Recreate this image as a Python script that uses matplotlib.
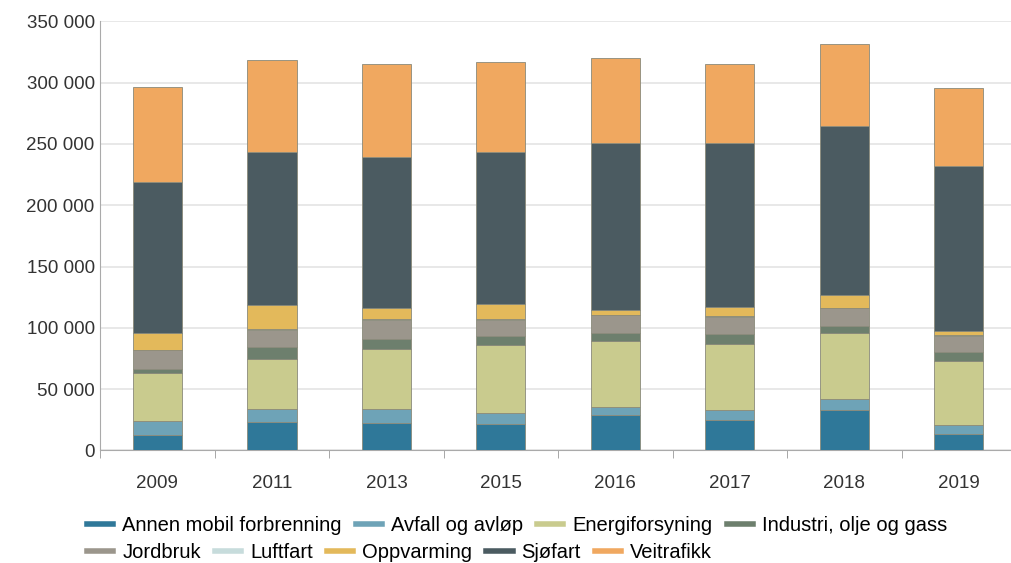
import matplotlib

matplotlib.use("Agg")
import matplotlib.pyplot as plt
import numpy as np
from matplotlib.lines import Line2D
from matplotlib.ticker import FuncFormatter

plt.rcParams["font.family"] = ["Liberation Sans", "DejaVu Sans"]

years = ["2009", "2011", "2013", "2015", "2016", "2017", "2018", "2019"]

annen_mobil = [12200, 23100, 22300, 21200, 28500, 24500, 32600, 13600]
avfall = [11700, 10900, 11700, 9500, 6800, 8100, 9000, 6800]
energi = [39000, 40200, 49000, 54900, 53600, 54400, 54100, 52200]
industri = [3600, 10100, 8100, 7400, 7100, 8200, 5700, 7600]
jordbruk = [15400, 14000, 15400, 13500, 14300, 13700, 14600, 13200]
luftfart = [400, 400, 400, 400, 400, 400, 400, 400]
oppvarming = [13600, 19600, 9500, 12800, 4100, 7600, 10000, 3500]
sjofart = [123000, 124800, 122600, 123400, 135600, 133500, 137900, 134400]
veitrafikk = [77600, 75000, 75900, 73400, 69400, 64500, 66900, 63600]

series = [
    ("Annen mobil forbrenning", annen_mobil, "#2f7899"),
    ("Avfall og avløp", avfall, "#6ea3b7"),
    ("Energiforsyning", energi, "#c9cb8e"),
    ("Industri, olje og gass", industri, "#6d7f6d"),
    ("Jordbruk", jordbruk, "#9b968c"),
    ("Luftfart", luftfart, "#c7dcdc"),
    ("Oppvarming", oppvarming, "#e3b95b"),
    ("Sjøfart", sjofart, "#4b5b61"),
    ("Veitrafikk", veitrafikk, "#f0a860"),
]

fig = plt.figure(figsize=(10.12, 5.63), dpi=100)
ax = fig.add_axes([0.099, 0.2, 0.905, 0.762])

x = np.arange(len(years))
bottom = np.zeros(len(years))
for name, values, color in series:
    ax.bar(x, values, width=0.43, bottom=bottom, color=color,
           edgecolor="#8a8a7a", linewidth=0.6, label=name, zorder=3)
    bottom += np.array(values)

ax.set_xlim(-0.5, len(years) - 0.5)
ax.set_ylim(0, 350000)
ax.set_yticks(np.arange(0, 350001, 50000))
ax.yaxis.set_major_formatter(FuncFormatter(lambda v, _: f"{int(v):,}".replace(",", " ")))
ax.set_xticks(x)
ax.set_xticklabels(years)
ax.set_xticks(np.arange(-0.5, len(years)), minor=True)
ax.tick_params(axis="x", which="major", length=0, pad=18, labelsize=13.5, colors="#333333")
ax.tick_params(axis="x", which="minor", length=6, color="#999999")
ax.tick_params(axis="y", length=0, pad=4, labelsize=13.5, colors="#333333")
ax.grid(axis="y", color="#e4e4e4", linewidth=1.2, zorder=0)
for side in ["top", "right"]:
    ax.spines[side].set_visible(False)
ax.spines["left"].set_color("#aaaaaa")
ax.spines["bottom"].set_color("#aaaaaa")

handles = [Line2D([0], [0], color=c, linewidth=4) for _, _, c in series]
labels = [n for n, _, _ in series]
leg_kw = dict(frameon=False, fontsize=14.5, handlelength=1.3, handletextpad=0.45,
              columnspacing=0.7, borderaxespad=0, loc="upper left")
fig.legend(handles[:4], labels[:4], ncol=4, bbox_to_anchor=(0.078, 0.098), **leg_kw)
fig.legend(handles[4:], labels[4:], ncol=5, bbox_to_anchor=(0.078, 0.05), **leg_kw)

fig.savefig("out.png", dpi=100)
plt.close(fig)
